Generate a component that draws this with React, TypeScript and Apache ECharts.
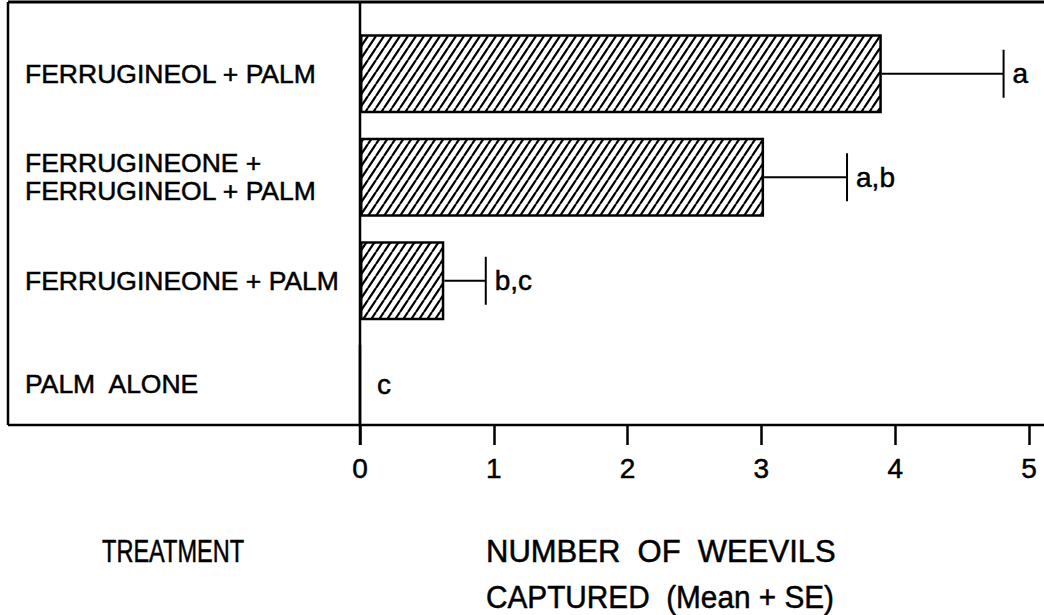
import React, { useEffect, useRef } from "react";
import * as echarts from "echarts";

// Treatments, top to bottom
const categories = [
  "FERRUGINEOL + PALM",
  "FERRUGINEONE +\nFERRUGINEOL + PALM",
  "FERRUGINEONE + PALM",
  "PALM  ALONE",
];
// Mean number of weevils captured
const means = [3.9, 3.02, 0.63, 0];
// Mean + SE (end of the error bar)
const upper = [4.81, 3.64, 0.94, 0];
// Significance letters
const letters = ["a", "a,b", "b,c", "c"];
// Axis ticks
const xTicks = [0, 1, 2, 3, 4, 5];

const FONT = "'Liberation Sans', Arial, Helvetica, sans-serif";
// thin outline that thickens the glyphs a little
const INK = { textBorderColor: "#000", textBorderWidth: 0.5 };

function hatchPattern(): HTMLCanvasElement {
  const w = 8;
  const h = 12;
  const c = document.createElement("canvas");
  c.width = w;
  c.height = h;
  const ctx = c.getContext("2d")!;
  ctx.fillStyle = "#fff";
  ctx.fillRect(0, 0, w, h);
  ctx.strokeStyle = "#000";
  ctx.lineWidth = 2.2;
  for (const off of [-w, 0, w]) {
    ctx.beginPath();
    ctx.moveTo(off, h);
    ctx.lineTo(off + w, 0);
    ctx.stroke();
  }
  return c;
}

export default function App() {
  const ref = useRef<HTMLDivElement>(null);

  useEffect(() => {
    if (!ref.current) return;
    const chart = echarts.init(ref.current, undefined, { renderer: "svg" });
    const pattern = hatchPattern();

    const boxLeft = 8;
    const boxTop = 2;
    const axisY = 425;
    const divider = 360;
    const lineStyle = { stroke: "#000", lineWidth: 2.5 };
    const titleStyle = {
      fontSize: 31,
      fontFamily: FONT,
      fill: "#000",
      verticalAlign: "middle",
      stroke: "#000",
      lineWidth: 0.5,
    };

    chart.setOption({
      animation: false,
      backgroundColor: "#fff",
      grid: { left: divider, top: 22, width: 669, height: 414, containLabel: false },
      xAxis: {
        type: "value",
        min: xTicks[0],
        max: xTicks[xTicks.length - 1],
        interval: 1,
        offset: -11,
        axisLine: { show: false },
        axisTick: { show: true, length: 20, lineStyle: { color: "#000", width: 2.5 } },
        splitLine: { show: false },
        axisLabel: { color: "#000", fontSize: 28, fontFamily: FONT, margin: 29, ...INK },
      },
      yAxis: {
        type: "category",
        inverse: true,
        data: categories,
        axisLine: { show: false },
        axisTick: { show: false },
        axisLabel: {
          color: "#000",
          fontSize: 26.5,
          lineHeight: 28,
          fontFamily: FONT,
          align: "left",
          margin: divider - 25,
          ...INK,
        },
      },
      series: [
        {
          type: "bar",
          data: means,
          barWidth: 79,
          itemStyle: {
            color: { image: pattern, repeat: "repeat", imageWidth: 8, imageHeight: 12 },
            borderColor: "#000",
            borderWidth: 2.5,
          },
        },
        {
          type: "custom",
          data: means.map((m, i) => [m, upper[i], i]),
          encode: { x: [0, 1], y: 2 },
          z: 5,
          renderItem: (params: any, api: any) => {
            const idx = params.dataIndex;
            const m = api.value(0);
            const u = api.value(1);
            const cat = api.value(2);
            const p0 = api.coord([m, cat]);
            const p1 = api.coord([u, cat]);
            const children: any[] = [];
            if (u > m) {
              children.push({
                type: "line",
                shape: { x1: p0[0], y1: p0[1], x2: p1[0], y2: p1[1] },
                style: { stroke: "#000", lineWidth: 2 },
              });
              children.push({
                type: "line",
                shape: { x1: p1[0], y1: p1[1] - 24, x2: p1[0], y2: p1[1] + 24 },
                style: { stroke: "#000", lineWidth: 2 },
              });
            }
            children.push({
              type: "text",
              x: p1[0] + (u > m ? 9 : 17),
              y: p1[1],
              style: {
                text: letters[idx],
                fontSize: 28,
                fontFamily: FONT,
                fill: "#000",
                align: "left",
                verticalAlign: "middle",
                stroke: "#000",
                lineWidth: 0.5,
              },
            });
            return { type: "group", children };
          },
        },
      ],
      graphic: [
        { type: "line", shape: { x1: boxLeft, y1: boxTop, x2: 1044, y2: boxTop }, style: { stroke: "#000", lineWidth: 3 } },
        { type: "line", shape: { x1: boxLeft, y1: axisY, x2: 1044, y2: axisY }, style: lineStyle },
        { type: "line", shape: { x1: boxLeft, y1: boxTop, x2: boxLeft, y2: axisY }, style: lineStyle },
        { type: "line", shape: { x1: divider, y1: boxTop, x2: divider, y2: axisY + 20 }, style: lineStyle },
        { type: "text", x: 102, y: 551, scaleX: 0.76, style: { ...titleStyle, text: "TREATMENT" } },
        { type: "text", x: 486, y: 551, scaleX: 1.0, style: { ...titleStyle, text: "NUMBER  OF  WEEVILS" } },
        { type: "text", x: 486, y: 597, scaleX: 0.96, style: { ...titleStyle, text: "CAPTURED  (Mean + SE)" } },
      ],
    });

    return () => chart.dispose();
  }, []);

  return (
    <div
      ref={ref}
      style={{ position: "fixed", left: 0, top: 0, width: 1044, height: 615, background: "#fff" }}
    />
  );
}
